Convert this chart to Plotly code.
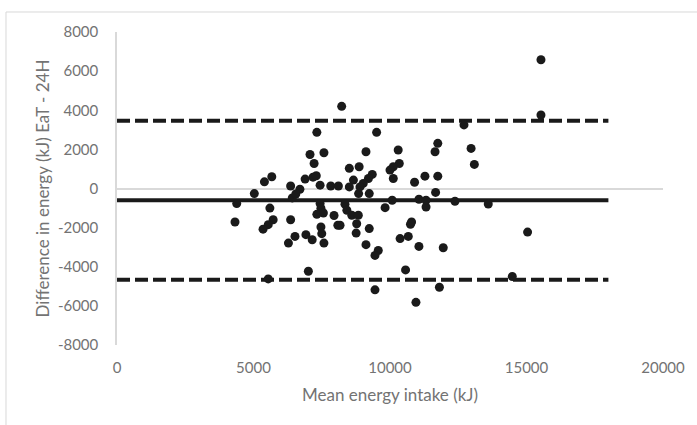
import plotly.graph_objects as go

# Bland-Altman data: mean of the two methods (kJ) vs. difference EaT - 24H (kJ)
mean_intake = [
    4385, 4322, 5030, 5400, 5670, 5600, 5720, 5540, 5350, 5540,
    6360, 6700, 6420, 6550, 6360, 6520, 6280, 6920, 7150, 6890,
    7180, 7300, 7440, 7070, 7580, 7220, 7320, 7830, 8110, 7440,
    7470, 7320, 7560, 7950, 7470, 7500, 8090, 7580, 7010, 8230,
    8350, 8420, 8600, 8840, 8780, 8760, 8170, 9240, 9120, 9570,
    9450, 9820, 10080, 11320, 10790, 10750, 10370, 10670, 11060, 11950,
    10570, 9450, 11810, 10950, 8850, 9240, 11060, 11320, 12380, 11670,
    8510, 8870, 10340, 10120, 10000, 9350, 9210, 8660, 8510, 9020,
    8900, 10120, 10900, 11280, 11750, 9510, 9120, 10300, 11750, 11650,
    12710, 12970, 13090, 15530, 15530, 13600, 15040, 14480,
]
difference = [
    -770, -1710, -260, 340, 600, -1000, -1600, -1850, -2080, -4620,
    130, -40, -480, -280, -1600, -2450, -2790, -2360, -2620, 480,
    580, 650, 170, 1740, 1830, 1280, 2870, 130, 130, -770,
    -1010, -1320, -1250, -1380, -1970, -2310, -1880, -2790, -4230, 4200,
    -800, -1110, -1370, -1370, -1800, -2280, -1880, -2050, -2870, -3170,
    -3420, -980, -600, -944, -1710, -1830, -2560, -2450, -2960, -3030,
    -4160, -5180, -5050, -5820, -260, -260, -550, -600, -650, -200,
    1030, 1110, 1280, 1110, 940, 720, 510, 430, 80, 260,
    80, 510, 320, 630, 630, 2870, 1880, 1970, 2310, 1880,
    3250, 2050, 1230, 3760, 6580, -790, -2230, -4500,
]

# Mean bias and 95% limits of agreement, drawn across the intake range
line_x = [0, 18000]
bias = -600
upper_loa = 3460
lower_loa = -4660

x_ticks = [0, 5000, 10000, 15000, 20000]
y_ticks = [-8000, -6000, -4000, -2000, 0, 2000, 4000, 6000, 8000]

ink = "#1a1a1a"
label_grey = "#737373"
axis_grey = "#d9d9d9"
font_family = "Lato, 'Open Sans', sans-serif"

fig = go.Figure()

fig.add_trace(go.Scatter(
    x=line_x, y=[upper_loa, upper_loa], mode="lines",
    line=dict(color=ink, width=4, dash="13px,5px"), hoverinfo="skip",
))
fig.add_trace(go.Scatter(
    x=line_x, y=[lower_loa, lower_loa], mode="lines",
    line=dict(color=ink, width=4, dash="13px,5px"), hoverinfo="skip",
))
fig.add_trace(go.Scatter(
    x=line_x, y=[bias, bias], mode="lines",
    line=dict(color=ink, width=4), hoverinfo="skip",
))
fig.add_trace(go.Scatter(
    x=mean_intake, y=difference, mode="markers",
    marker=dict(color=ink, size=9, line=dict(width=0)),
))

fig.update_layout(
    width=697, height=425,
    margin=dict(l=117, r=34, t=32, b=80),
    paper_bgcolor="white", plot_bgcolor="white",
    showlegend=False,
    font=dict(family=font_family, size=15, color=label_grey),
    xaxis=dict(
        range=[0, 20000], tickvals=x_ticks, ticktext=[str(v) for v in x_ticks],
        showgrid=False, zeroline=False, showline=False, ticks="",
        ticklabelstandoff=12,
        title=dict(text="Mean energy intake (kJ)", standoff=14,
                   font=dict(size=17, color=label_grey)),
    ),
    yaxis=dict(
        range=[-8000, 8000], tickvals=y_ticks, ticktext=[str(v) for v in y_ticks],
        showgrid=False, zeroline=True, zerolinecolor=axis_grey, zerolinewidth=1.5,
        showline=True, linecolor=axis_grey, linewidth=1.5, ticks="",
        ticklabelstandoff=14,
        title=dict(text="Difference in energy (kJ) EaT - 24H", standoff=4,
                   font=dict(size=17, color=label_grey)),
    ),
    shapes=[dict(
        type="rect", xref="paper", yref="paper",
        x0=-0.2033, x1=1.068, y0=-0.2716, y1=1.0639,
        line=dict(color=axis_grey, width=1), fillcolor="rgba(0,0,0,0)", layer="below",
    )],
)

fig.write_html("out.html")
